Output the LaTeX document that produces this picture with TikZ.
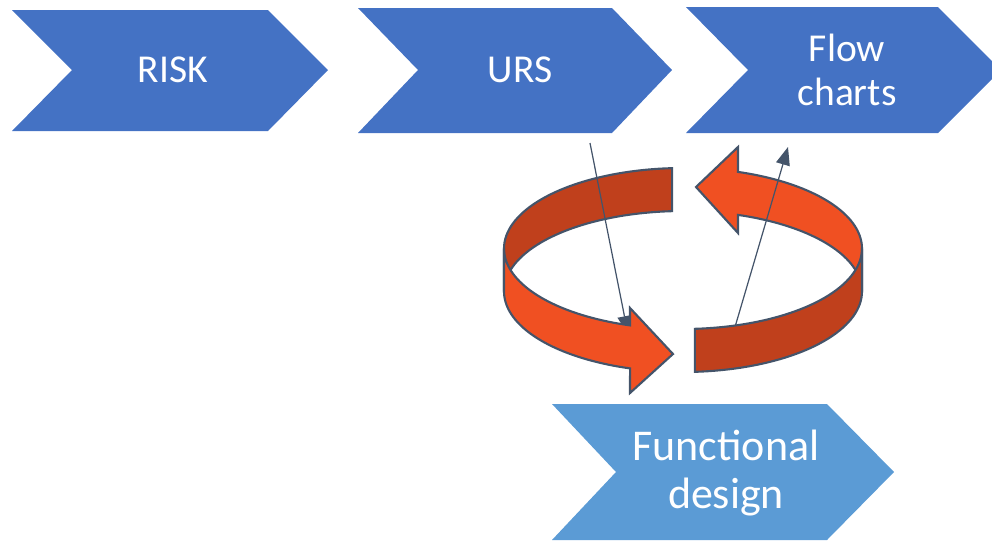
\documentclass[tikz,border=0pt]{standalone}
\usepackage{fontspec}
\setmainfont{Carlito}
\usetikzlibrary{arrows.meta}
\definecolor{stepblue}{HTML}{4472C4}
\definecolor{paleblue}{HTML}{5B9BD5}
\definecolor{loopred}{HTML}{F05022}
\definecolor{loopdark}{HTML}{C0401C}
\definecolor{slate}{HTML}{44546A}
\begin{document}
\begin{tikzpicture}[x=0.02cm,y=-0.02cm,
  steptext/.style={text=white,align=center,inner sep=0pt,font=\fontsize{22.5}{25.5}\selectfont},
  bigtext/.style={steptext,font=\fontsize{25}{27.5}\selectfont},
  lightband/.style={fill=loopred,draw=slate,line width=1.2pt},
  darkband/.style={fill=loopdark,draw=slate,line width=1.2pt},
  thinarrow/.style={draw=slate,line width=0.7pt,-{Triangle[length=0.36cm,width=0.28cm]}}]
\clip (0,0) rectangle (992,542);
% chevrons
\fill[stepblue] (12,10) -- ++(256,0) -- ++(60,60) -- ++(-60,61) -- ++(-256,0) -- ++(60,-61) -- cycle;
\fill[stepblue] (358,8) -- ++(254,0) -- ++(60,62) -- ++(-60,63) -- ++(-254,0) -- ++(60,-63) -- cycle;
\fill[stepblue] (686,7) -- ++(252,0) -- ++(63,63) -- ++(-63,63) -- ++(-252,0) -- ++(62,-63) -- cycle;
\fill[paleblue] (552,404) -- ++(275,0) -- ++(67,68) -- ++(-67,68) -- ++(-275,0) -- ++(64,-68) -- cycle;
\node[steptext] (risk) at (173,70) {RISK};
\node[steptext] (urs) at (520,70) {URS};
\node[steptext] (flow) at (847,70) {Flow\\charts};
\node[bigtext] (design) at (726,473) {Functional\\design};
% back half of the loop
\filldraw[darkband] plot[domain=93.5:180,samples=40] ({683+179*cos(\x)},{248.5-80.5*sin(\x)})
  -- plot[domain=180:93.5,samples=40] ({683+179*cos(\x)},{291.5-80.5*sin(\x)}) -- cycle;
\filldraw[lightband] plot[domain=72.1:0,samples=40] ({683+179*cos(\x)},{248.5-80.5*sin(\x)})
  -- plot[domain=0:72.1,samples=40] ({683+179*cos(\x)},{291.5-80.5*sin(\x)})
  -- (738,233) -- (696,187) -- (738,147) -- cycle;
% thin arrows
\coordinate (fromurs) at (590,143);
\coordinate (intoloop) at (628,334);
\coordinate (fromloop) at (735,327);
\coordinate (toflow) at (788,147);
\draw[thinarrow] (fromurs) -- (intoloop);
\draw[thinarrow] (fromloop) -- (toflow);
% front half of the loop
\filldraw[lightband] plot[domain=180:252.8,samples=40] ({683+179*cos(\x)},{248.5-80.5*sin(\x)})
  -- (630,308) -- (673,354) -- (630,393)
  -- plot[domain=252.8:180,samples=40] ({683+179*cos(\x)},{291.5-80.5*sin(\x)}) -- cycle;
\filldraw[darkband] plot[domain=273.8:360,samples=40] ({683+179*cos(\x)},{248.5-80.5*sin(\x)})
  -- plot[domain=360:273.8,samples=40] ({683+179*cos(\x)},{291.5-80.5*sin(\x)}) -- cycle;
\end{tikzpicture}
\end{document}
